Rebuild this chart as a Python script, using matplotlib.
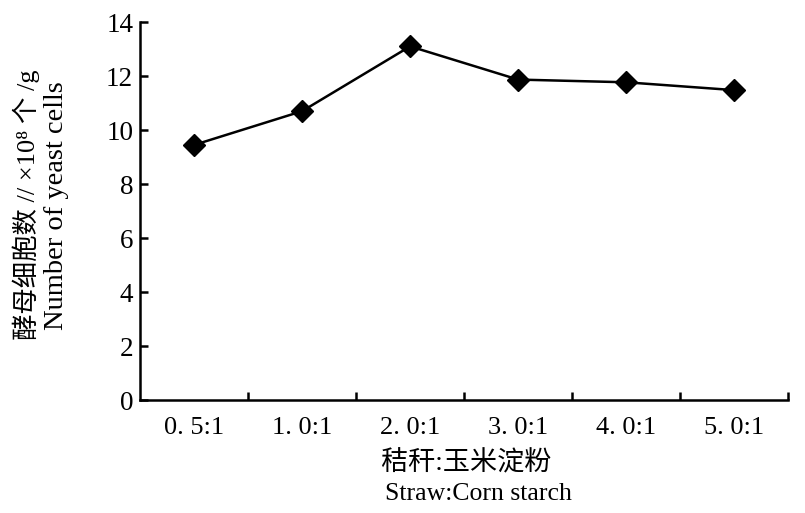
import matplotlib
matplotlib.use("Agg")
import matplotlib.pyplot as plt

# straw : corn starch ratio vs yeast cell count
ratios = ["0. 5:1", "1. 0:1", "2. 0:1", "3. 0:1", "4. 0:1", "5. 0:1"]
cells = [9.45, 10.7, 13.1, 11.87, 11.77, 11.48]
yticks = [0, 2, 4, 6, 8, 10, 12, 14]

plt.rcParams['font.family'] = ['Liberation Serif', 'Noto Sans CJK SC', 'DejaVu Sans']

fig = plt.figure(figsize=(8.05, 5.13), dpi=100)
ax = fig.add_axes([0.174, 0.220, 0.805, 0.737])

x = list(range(len(ratios)))
ax.plot(x, cells, color='black', lw=1.8, marker='D', markersize=11.5,
        markerfacecolor='black', markeredgecolor='black')

ax.set_xlim(-0.5, len(ratios) - 0.5)
ax.set_ylim(0, 14)
ax.set_yticks(yticks)
ax.set_yticklabels([str(v) for v in yticks], fontsize=19.5)

# category labels between the boundary ticks
ax.set_xticks([i + 0.5 for i in x])
ax.set_xticklabels([])
ax.set_xticks(x, minor=True)
ax.set_xticklabels(ratios, minor=True, fontsize=19)
ax.tick_params(axis='x', which='minor', length=0, pad=12)
ax.tick_params(axis='x', which='major', direction='in', length=6, width=1.8)
ax.tick_params(axis='y', direction='in', length=6, width=1.8, pad=5)

for s in ['top', 'right']:
    ax.spines[s].set_visible(False)
for s in ['left', 'bottom']:
    ax.spines[s].set_linewidth(1.8)

fig.text(0.579, 0.097, "秸秆:玉米淀粉", ha='center', va='center', fontsize=19.5)
fig.text(0.594, 0.037, "Straw:Corn starch", ha='center', va='center', fontsize=18.5)
fig.text(0.032, 0.60, "酵母细胞数 // ×10⁸ 个 /g", rotation=90, ha='center', va='center', fontsize=19)
fig.text(0.070, 0.60, "Number of yeast cells", rotation=90, ha='center', va='center', fontsize=20.5)

fig.savefig("out.png", dpi=100)
